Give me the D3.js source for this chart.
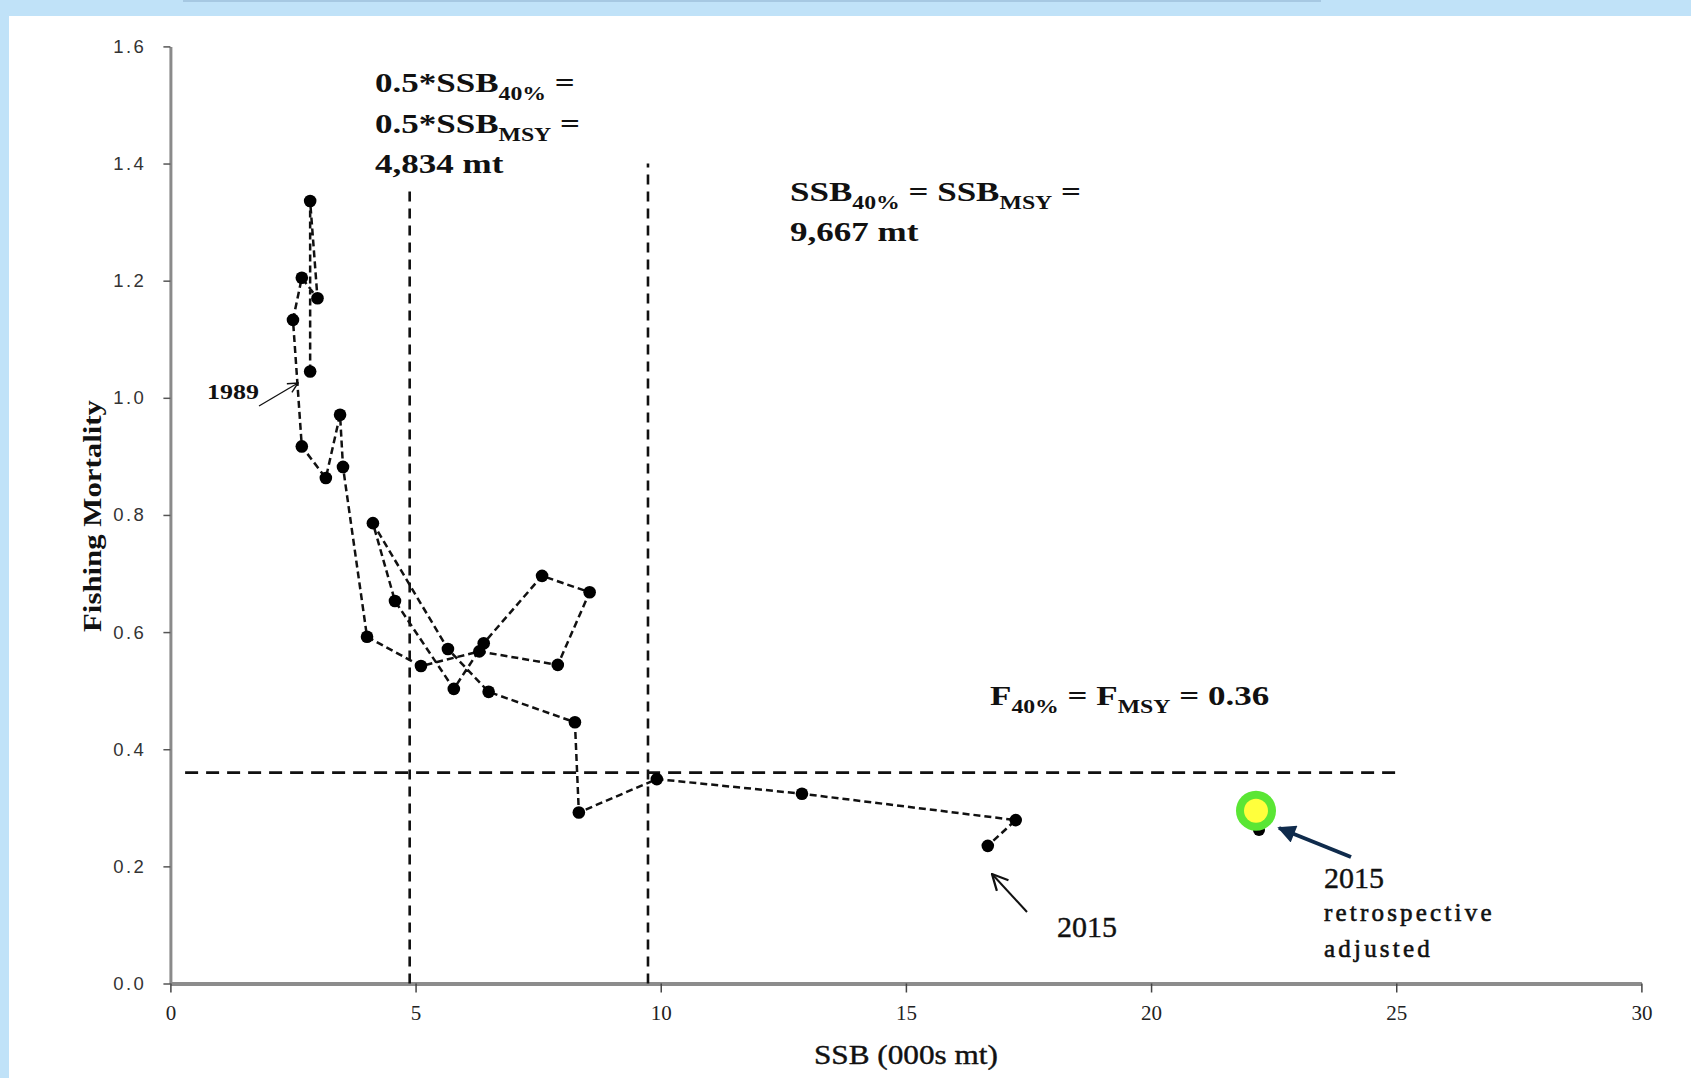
<!DOCTYPE html>
<html>
<head>
<meta charset="utf-8">
<script src="https://cdn.jsdelivr.net/npm/d3@7"></script>
<style>
    html, body { margin: 0; padding: 0; background: #c0e2f8; }
    svg { display: block; }
</style>
</head>
<body>
<svg id="chart" width="1691" height="1078"></svg>
<script>
    // stock trajectory, 1989 -> 2015
    var years = [1989, 1990, 1991, 1992, 1993, 1994, 1995, 1996, 1997, 1998, 1999, 2000, 2001, 2002,
                 2003, 2004, 2005, 2006, 2007, 2008, 2009, 2010, 2011, 2012, 2013, 2014, 2015];
    var ssb = [2.85, 2.85, 3.00, 2.68, 2.50, 2.68, 3.17, 3.46, 3.52, 4.01, 5.11, 6.30, 7.90, 8.55,
               7.58, 6.39, 5.78, 4.58, 4.13, 5.66, 6.49, 8.25, 8.33, 9.92, 12.88, 17.24, 16.67];
    var fishingMort = [1.045, 1.336, 1.170, 1.205, 1.133, 0.917, 0.863, 0.971, 0.882, 0.592, 0.542, 0.567, 0.544, 0.668,
                       0.696, 0.581, 0.503, 0.653, 0.786, 0.571, 0.498, 0.446, 0.292, 0.349, 0.324, 0.279, 0.235];

    // 2015 retrospective adjusted point
    var retroSsb = [22.14];
    var retroF = [0.295];
    var retroHiddenF = [0.262];

    var xTicks = [0, 5, 10, 15, 20, 25, 30];
    var yTicks = [0, 0.2, 0.4, 0.6, 0.8, 1.0, 1.2, 1.4, 1.6];

    // reference points as drawn
    var halfSsbMsy = 4.88;
    var ssbMsy = 9.74;
    var fMsy = 0.36;
    var refLineTop = 1.4;
    var fLineRange = [0.3, 25];

    var width = 1691, height = 1078;
    var margin = { top: 46.4, right: 49.6, bottom: 94.5, left: 170.4 };

    var svg = d3.select("#chart");

    // white slide panel
    svg.append("rect").attr("x", 9).attr("y", 16).attr("width", width - 9).attr("height", height - 16).attr("fill", "#fff");
    svg.append("rect").attr("x", 183).attr("y", 0).attr("width", 1138).attr("height", 2).attr("fill", "#a6c8e2");

    var x = d3.scaleLinear().domain([0, 30]).range([margin.left, width - margin.right]);
    var y = d3.scaleLinear().domain([0, 1.6]).range([height - margin.bottom, margin.top]);

    var defs = svg.append("defs");
    defs.append("marker")
        .attr("id", "openHead").attr("viewBox", "0 0 12 12").attr("refX", 11).attr("refY", 6)
        .attr("markerWidth", 12).attr("markerHeight", 12).attr("markerUnits", "userSpaceOnUse")
        .attr("orient", "auto")
        .append("path").attr("d", "M1,1 L11,6 L1,11").attr("fill", "none").attr("stroke", "#111").attr("stroke-width", 1.4);
    defs.append("marker")
        .attr("id", "openHeadBig").attr("viewBox", "0 0 16 16").attr("refX", 15).attr("refY", 8)
        .attr("markerWidth", 18).attr("markerHeight", 18).attr("markerUnits", "userSpaceOnUse")
        .attr("orient", "auto")
        .append("path").attr("d", "M1,1 L15,8 L1,15").attr("fill", "none").attr("stroke", "#111").attr("stroke-width", 2);
    defs.append("marker")
        .attr("id", "navyHead").attr("viewBox", "0 0 10 10").attr("refX", 9).attr("refY", 5)
        .attr("markerWidth", 20).attr("markerHeight", 18).attr("markerUnits", "userSpaceOnUse")
        .attr("orient", "auto")
        .append("path").attr("d", "M0,0 L10,5 L0,10 Z").attr("fill", "#0f2b4c");

    // axes
    var yAxis = svg.append("g")
        .attr("transform", "translate(" + margin.left + ",0)")
        .call(d3.axisLeft(y).tickValues(yTicks).tickFormat(d3.format(".1f")).tickSize(7).tickSizeOuter(0).tickPadding(17));
    yAxis.select(".domain").attr("stroke", "#8a8a8a").attr("stroke-width", 3);
    yAxis.selectAll(".tick line").attr("stroke", "#555").attr("stroke-width", 1.5);
    yAxis.selectAll(".tick text")
        .attr("font-family", "Liberation Sans, Arial, sans-serif").attr("font-size", 18.5)
        .attr("letter-spacing", 2.5).attr("fill", "#333");

    var xAxis = svg.append("g")
        .attr("transform", "translate(0," + (height - margin.bottom) + ")")
        .call(d3.axisBottom(x).tickValues(xTicks).tickSize(9).tickSizeOuter(0).tickPadding(13));
    xAxis.select(".domain").attr("stroke", "#8c8c8c").attr("stroke-width", 4);
    xAxis.selectAll(".tick line").attr("stroke", "#444").attr("stroke-width", 1.5);
    xAxis.selectAll(".tick text")
        .attr("font-family", "Liberation Serif, Times New Roman, serif").attr("font-size", 21)
        .attr("fill", "#222");

    svg.append("text")
        .attr("transform", "translate(101,516) rotate(-90)")
        .attr("text-anchor", "middle")
        .attr("font-family", "Liberation Serif, Times New Roman, serif").attr("font-size", 25).attr("font-weight", "bold")
        .attr("textLength", 232).attr("lengthAdjust", "spacingAndGlyphs")
        .attr("fill", "#111")
        .text("Fishing Mortality");

    svg.append("text")
        .attr("x", x(15)).attr("y", 1064)
        .attr("text-anchor", "middle")
        .attr("font-family", "Liberation Serif, Times New Roman, serif").attr("font-size", 27)
        .attr("textLength", 184).attr("lengthAdjust", "spacingAndGlyphs")
        .attr("fill", "#111").attr("stroke", "#111").attr("stroke-width", 0.4)
        .text("SSB (000s mt)");

    // reference lines
    [halfSsbMsy, ssbMsy].forEach(function (v) {
        svg.append("line")
            .attr("x1", x(v)).attr("x2", x(v)).attr("y1", y(0)).attr("y2", y(refLineTop))
            .attr("stroke", "#111").attr("stroke-width", 2.6).attr("stroke-dasharray", "10,7");
    });
    svg.append("line")
        .attr("x1", x(fLineRange[0])).attr("x2", x(fLineRange[1])).attr("y1", y(fMsy)).attr("y2", y(fMsy))
        .attr("stroke", "#111").attr("stroke-width", 2.8).attr("stroke-dasharray", "13,8");

    // trajectory
    var pts = years.map(function (yr, i) { return { year: yr, ssb: ssb[i], f: fishingMort[i] }; });
    svg.append("path")
        .datum(pts)
        .attr("fill", "none").attr("stroke", "#111").attr("stroke-width", 2.5).attr("stroke-dasharray", "7,4")
        .attr("d", d3.line().x(function (d) { return x(d.ssb); }).y(function (d) { return y(d.f); }));
    svg.selectAll(".dot")
        .data(pts)
        .enter().append("circle")
        .attr("class", "dot")
        .attr("cx", function (d) { return x(d.ssb); })
        .attr("cy", function (d) { return y(d.f); })
        .attr("r", 6.3)
        .attr("fill", "#000");

    // retrospective adjusted point
    svg.append("circle").attr("cx", x(retroSsb[0]) + 3).attr("cy", y(retroHiddenF[0])).attr("r", 6).attr("fill", "#000");
    svg.append("circle").attr("cx", x(retroSsb[0])).attr("cy", y(retroF[0])).attr("r", 20).attr("fill", "#5ae634");
    svg.append("circle").attr("cx", x(retroSsb[0])).attr("cy", y(retroF[0])).attr("r", 12).attr("fill", "#ffff3c");

    // annotation box with subscripts
    function annot(px, baseline, parts) {
        var g = svg.append("g").attr("transform", "translate(" + px + "," + baseline + ") scale(1.25,1)");
        var t = g.append("text")
            .attr("font-family", "Liberation Serif, Times New Roman, serif").attr("font-weight", "bold")
            .attr("font-size", 28).attr("fill", "#111");
        var shifted = false;
        parts.forEach(function (p) {
            var sp = t.append("tspan").text(p[0]);
            if (p[1] && !shifted) { sp.attr("dy", 8).attr("font-size", 19); shifted = true; }
            else if (p[1]) { sp.attr("font-size", 19); }
            else if (shifted) { sp.attr("dy", -8); shifted = false; }
        });
    }

    svg.append("rect").attr("x", 368).attr("y", 60).attr("width", 210).attr("height", 131).attr("fill", "#fff");
    annot(375, 92, [["0.5*SSB"], ["40%", 1], [" ="]]);
    annot(375, 133, [["0.5*SSB"], ["MSY", 1], [" ="]]);
    annot(375, 173, [["4,834 mt"]]);

    annot(790, 201, [["SSB"], ["40%", 1], [" = SSB"], ["MSY", 1], [" ="]]);
    annot(790, 241, [["9,667 mt"]]);

    annot(990, 705, [["F"], ["40%", 1], [" = F"], ["MSY", 1], [" = 0.36"]]);

    // year labels and arrows
    svg.append("g").attr("transform", "translate(207,399) scale(1.3,1)")
        .append("text")
        .attr("font-family", "Liberation Serif, Times New Roman, serif").attr("font-weight", "bold")
        .attr("font-size", 20).attr("fill", "#111").text("1989");
    svg.append("line").attr("x1", 259).attr("y1", 406).attr("x2", 298).attr("y2", 383)
        .attr("stroke", "#111").attr("stroke-width", 1.3).attr("marker-end", "url(#openHead)");

    svg.append("text").attr("x", 1057).attr("y", 937)
        .attr("font-family", "Liberation Serif, Times New Roman, serif").attr("font-size", 30)
        .attr("fill", "#111").attr("stroke", "#111").attr("stroke-width", 0.4).text("2015");
    svg.append("line").attr("x1", 1027).attr("y1", 912).attr("x2", 992).attr("y2", 874)
        .attr("stroke", "#111").attr("stroke-width", 2).attr("marker-end", "url(#openHeadBig)");

    svg.append("line").attr("x1", 1351).attr("y1", 857).attr("x2", 1279).attr("y2", 828)
        .attr("stroke", "#0f2b4c").attr("stroke-width", 4).attr("marker-end", "url(#navyHead)");
    svg.append("text").attr("x", 1324).attr("y", 888)
        .attr("font-family", "Liberation Serif, Times New Roman, serif").attr("font-size", 30)
        .attr("fill", "#111").attr("stroke", "#111").attr("stroke-width", 0.4).text("2015");
    svg.append("text").attr("x", 1324).attr("y", 921)
        .attr("font-family", "Liberation Serif, Times New Roman, serif").attr("font-size", 25)
        .attr("letter-spacing", 3.2).attr("fill", "#111").attr("stroke", "#111").attr("stroke-width", 0.6)
        .text("retrospective");
    svg.append("text").attr("x", 1324).attr("y", 957)
        .attr("font-family", "Liberation Serif, Times New Roman, serif").attr("font-size", 25)
        .attr("letter-spacing", 3.2).attr("fill", "#111").attr("stroke", "#111").attr("stroke-width", 0.6)
        .text("adjusted");
</script>
</body>
</html>
